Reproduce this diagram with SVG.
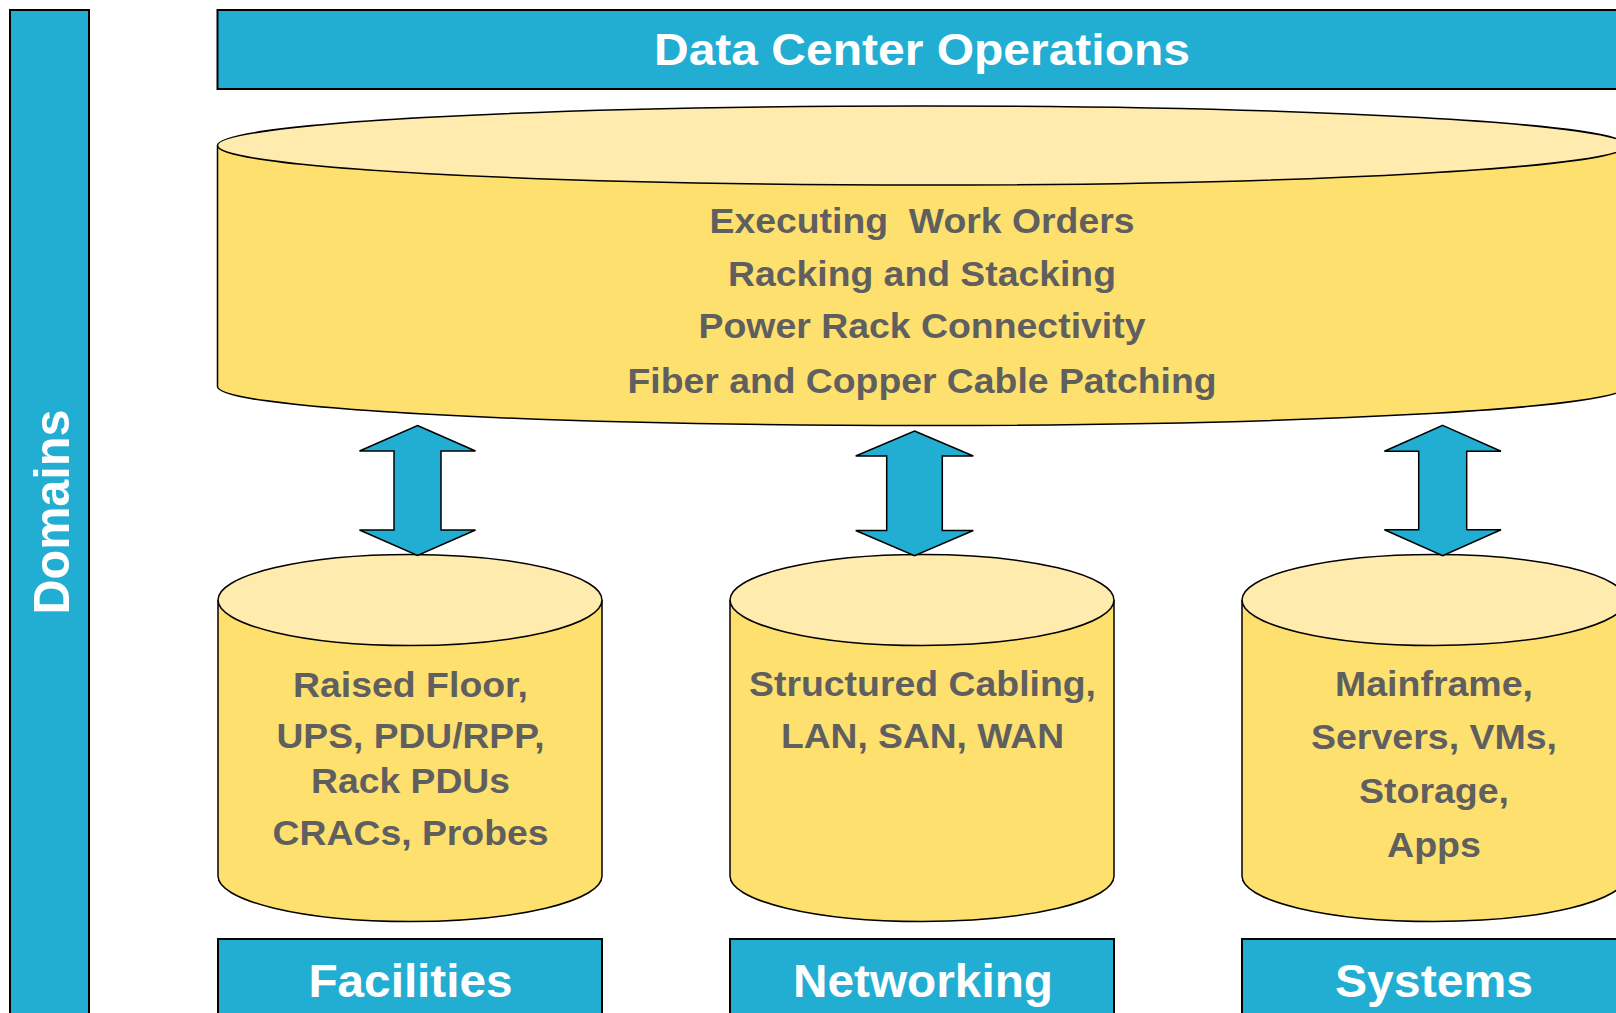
<svg xmlns="http://www.w3.org/2000/svg" width="1616" height="1013" viewBox="0 0 1616 1013">
  <style>
    .bar { fill: #22AED3; stroke: #000; stroke-width: 2; }
    .body { fill: #FEE06F; stroke: #000; stroke-width: 1.5; }
    .lid { fill: #FEEBAD; stroke: #000; stroke-width: 1.5; }
    .arrow { fill: #22AED3; stroke: #000; stroke-width: 1.5; stroke-linejoin: miter; }
    .head { font-family: "Liberation Sans", Arial, sans-serif; font-weight: bold; fill: #fff; text-anchor: middle; }
    .item { font-family: "Liberation Sans", Arial, sans-serif; font-weight: bold; font-size: 35px; fill: #5F5F5F; text-anchor: middle; }
  </style>

  <rect width="1616" height="1013" fill="#fff"/>

  <!-- vertical side bar -->
  <g id="domains">
    <rect class="bar" x="10" y="10" width="79" height="1030"/>
    <text class="head" font-size="50" textLength="205" lengthAdjust="spacingAndGlyphs" transform="translate(69,512) rotate(-90)">Domains</text>
  </g>

  <!-- top banner -->
  <g id="data-center-operations">
    <rect class="bar" x="217.5" y="10" width="1430" height="79"/>
    <text class="head" x="922" y="65" font-size="44" textLength="536" lengthAdjust="spacingAndGlyphs">Data Center Operations</text>
  </g>

  <!-- wide operations cylinder -->
  <g id="operations-store">
    <path class="body" d="M217.5,145.5 V386.5 A704.5,39 0 0 0 1626.5,386.5 V145.5"/>
    <ellipse class="lid" cx="922" cy="145.5" rx="704.5" ry="39.5"/>
    <text class="item" x="922" y="233.3" textLength="425" lengthAdjust="spacingAndGlyphs" xml:space="preserve">Executing  Work Orders</text>
    <text class="item" x="922" y="286" textLength="388" lengthAdjust="spacingAndGlyphs">Racking and Stacking</text>
    <text class="item" x="922" y="338.3" textLength="447" lengthAdjust="spacingAndGlyphs">Power Rack Connectivity</text>
    <text class="item" x="922" y="393.3" textLength="589" lengthAdjust="spacingAndGlyphs">Fiber and Copper Cable Patching</text>
  </g>

  <!-- facilities cylinder -->
  <g id="facilities-store">
    <path class="body" d="M218,600 V876 A192,45.5 0 0 0 602,876 V600"/>
    <ellipse class="lid" cx="410" cy="600" rx="192" ry="45.5"/>
    <text class="item" x="410.5" y="696.7" textLength="235" lengthAdjust="spacingAndGlyphs">Raised Floor,</text>
    <text class="item" x="410.5" y="748.3" textLength="268" lengthAdjust="spacingAndGlyphs">UPS, PDU/RPP,</text>
    <text class="item" x="410.5" y="793.3" textLength="199" lengthAdjust="spacingAndGlyphs">Rack PDUs</text>
    <text class="item" x="410.5" y="845" textLength="276" lengthAdjust="spacingAndGlyphs">CRACs, Probes</text>
  </g>

  <!-- networking cylinder -->
  <g id="networking-store">
    <path class="body" d="M730,600 V876 A192,45.5 0 0 0 1114,876 V600"/>
    <ellipse class="lid" cx="922" cy="600" rx="192" ry="45.5"/>
    <text class="item" x="922.5" y="696" textLength="347" lengthAdjust="spacingAndGlyphs">Structured Cabling,</text>
    <text class="item" x="922.5" y="748.3" textLength="283" lengthAdjust="spacingAndGlyphs">LAN, SAN, WAN</text>
  </g>

  <!-- systems cylinder -->
  <g id="systems-store">
    <path class="body" d="M1242,600 V876 A192,45.5 0 0 0 1626,876 V600"/>
    <ellipse class="lid" cx="1434" cy="600" rx="192" ry="45.5"/>
    <text class="item" x="1434" y="696.3" textLength="198" lengthAdjust="spacingAndGlyphs">Mainframe,</text>
    <text class="item" x="1434" y="749" textLength="246" lengthAdjust="spacingAndGlyphs">Servers, VMs,</text>
    <text class="item" x="1434" y="802.6" textLength="150" lengthAdjust="spacingAndGlyphs">Storage,</text>
    <text class="item" x="1434" y="857.4" textLength="94" lengthAdjust="spacingAndGlyphs">Apps</text>
  </g>

  <!-- domain labels -->
  <g id="facilities-label">
    <rect class="bar" x="218" y="939" width="384" height="100"/>
    <text class="head" x="410.5" y="996.5" font-size="46" textLength="204" lengthAdjust="spacingAndGlyphs">Facilities</text>
  </g>
  <g id="networking-label">
    <rect class="bar" x="730" y="939" width="384" height="100"/>
    <text class="head" x="923" y="996.5" font-size="46" textLength="260" lengthAdjust="spacingAndGlyphs">Networking</text>
  </g>
  <g id="systems-label">
    <rect class="bar" x="1242" y="939" width="384" height="100"/>
    <text class="head" x="1434" y="996.5" font-size="46" textLength="198" lengthAdjust="spacingAndGlyphs">Systems</text>
  </g>

  <!-- two-way block arrows between operations and each domain -->
  <g id="connectors">
    <polygon class="arrow" points="417.5,425.5 475.5,451 441,451 441,530 475.5,530 417.5,555.5 359.5,530 394,530 394,451 359.5,451"/>
    <polygon class="arrow" points="914.5,431 973.3,456 942.3,456 942.3,530.5 973.3,530.5 914.5,555.7 855.7,530.5 886.7,530.5 886.7,456 855.7,456"/>
    <polygon class="arrow" points="1442.7,425.4 1501,451.2 1466.7,451.2 1466.7,529.8 1501,529.8 1442.7,555.6 1384.4,529.8 1418.7,529.8 1418.7,451.2 1384.4,451.2"/>
  </g>
</svg>
